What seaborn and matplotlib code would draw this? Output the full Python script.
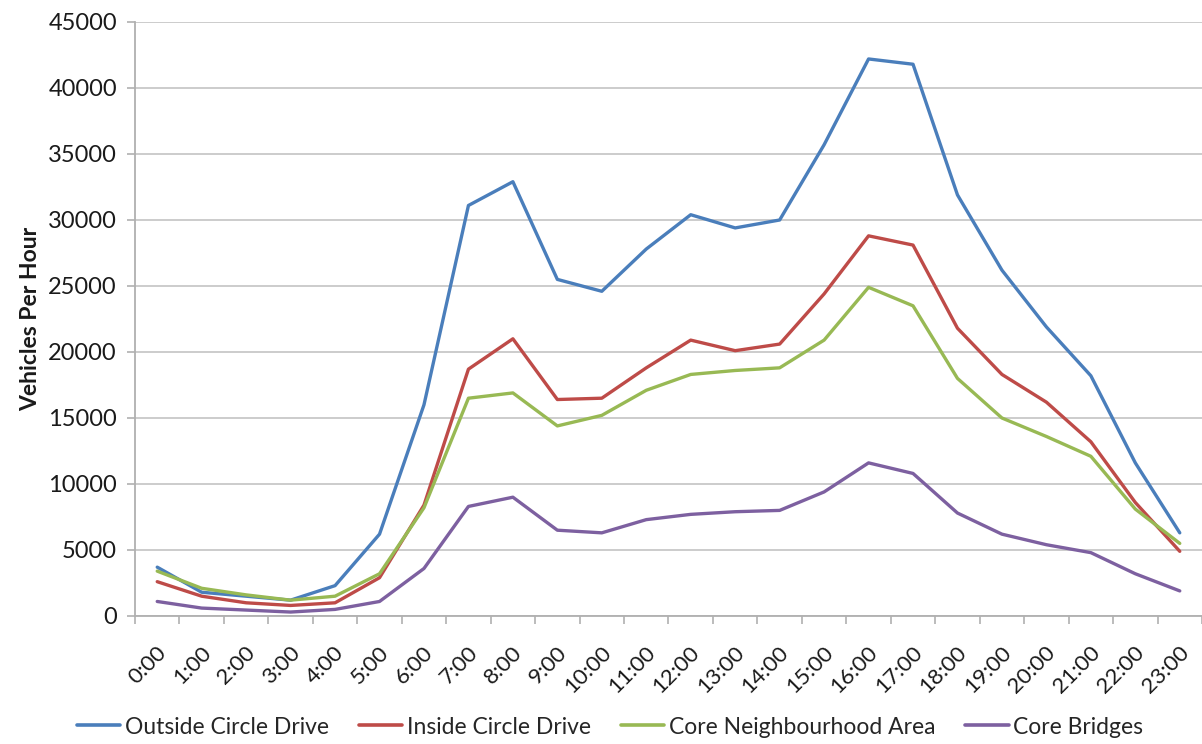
import numpy as np
import pandas as pd
import matplotlib
matplotlib.use('Agg')
import matplotlib.pyplot as plt
import matplotlib.transforms as mtransforms
import seaborn as sns


hours = [f'{h}:00' for h in range(24)]

outside_circle = [3700, 1800, 1500, 1200, 2300, 6200, 16000, 31100, 32900, 25500,
                  24600, 27800, 30400, 29400, 30000, 35700, 42200, 41800, 31900,
                  26200, 21900, 18200, 11600, 6300]
inside_circle = [2600, 1500, 1000, 800, 1000, 2900, 8400, 18700, 21000, 16400,
                 16500, 18800, 20900, 20100, 20600, 24400, 28800, 28100, 21800,
                 18300, 16200, 13200, 8600, 4900]
core_neighbourhood = [3400, 2100, 1600, 1200, 1500, 3200, 8200, 16500, 16900, 14400,
                      15200, 17100, 18300, 18600, 18800, 20900, 24900, 23500, 18000,
                      15000, 13600, 12100, 8100, 5500]
core_bridges = [1100, 600, 450, 300, 500, 1100, 3600, 8300, 9000, 6500,
                6300, 7300, 7700, 7900, 8000, 9400, 11600, 10800, 7800,
                6200, 5400, 4800, 3200, 1900]

series_names = ['Outside Circle Drive', 'Inside Circle Drive',
                'Core Neighbourhood Area', 'Core Bridges']
series_colors = ['#4a7ebb', '#be4b48', '#98b954', '#7d60a0']


def build_frame() -> pd.DataFrame:
    rows = []
    for name, vals in zip(series_names,
                          [outside_circle, inside_circle, core_neighbourhood, core_bridges]):
        for i, v in enumerate(vals):
            rows.append({'pos': i, 'hour': hours[i], 'series': name, 'value': v})
    return pd.DataFrame(rows)


sns.set_theme(style='white')
plt.rcParams['font.family'] = ['Lato', 'DejaVu Sans']

df = build_frame()

fig = plt.figure(figsize=(12.02, 7.44), dpi=100)
W, H = 1202, 744
ax = fig.add_axes([135 / W, 128 / H, (W - 135) / W, (616 - 22) / H])

sns.lineplot(data=df, x='pos', y='value', hue='series', hue_order=series_names,
             palette=series_colors, linewidth=2.4, ax=ax, legend=False)

ax.set_xlim(-0.5, -0.5 + (W - 135) / 44.8)
ax.set_ylim(0, 45000)
ax.set_yticks(np.arange(0, 45001, 5000))
ax.yaxis.grid(True, color='#c8c8c8', linewidth=1.3)
ax.set_axisbelow(True)

ax.set_xticks(np.arange(24))
ax.set_xticks(np.arange(-0.5, 24, 1), minor=True)
ax.tick_params(axis='x', which='major', length=0, pad=4)
ax.tick_params(axis='x', which='minor', length=6, width=1.2, color='#b0b0b0',
               direction='out', bottom=True)
ax.tick_params(axis='y', length=6, width=1.2, color='#b0b0b0', direction='out',
               left=True, labelsize=17, labelcolor='#1a1a1a', pad=7)
ax.set_xticklabels(hours, rotation=45, ha='right', va='center',
                   rotation_mode='anchor', fontsize=16, color='#1a1a1a')
# tick_params resets label transforms, so shift the labels afterwards
offset = mtransforms.ScaledTranslation(6 / 100, -28 / 100, fig.dpi_scale_trans)
for lbl in ax.get_xticklabels():
    lbl.set_transform(lbl.get_transform() + offset)

for side in ['top', 'right']:
    ax.spines[side].set_visible(False)
for side in ['left', 'bottom']:
    ax.spines[side].set_color('#b0b0b0')
    ax.spines[side].set_linewidth(1.3)

ax.set_xlabel('')
ax.set_ylabel('Vehicles Per Hour', fontsize=16.5, fontweight='bold', color='#1a1a1a',
              labelpad=5)

handles = [plt.Line2D([0], [0], color=c, linewidth=2.6) for c in series_colors]
fig.legend(handles, series_names, loc='center', bbox_to_anchor=(0.5075, 17 / H),
           ncol=4, frameon=False, fontsize=16.5, handlelength=1.9, handletextpad=0.2,
           columnspacing=1.3)

fig.savefig('out.png', dpi=100)
